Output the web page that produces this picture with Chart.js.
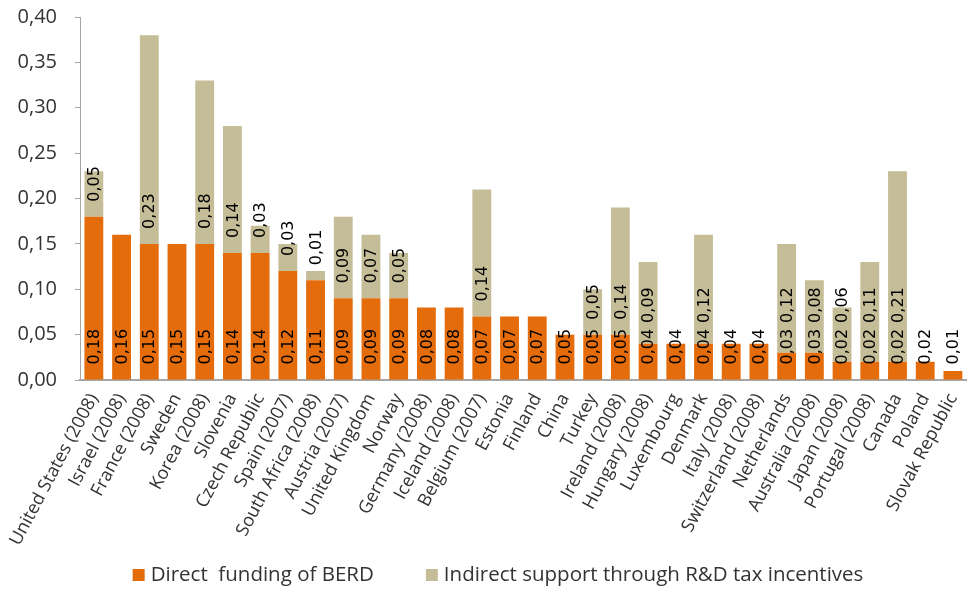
<!DOCTYPE html>
<html>
<head>
<meta charset="utf-8">
<script src="https://cdn.jsdelivr.net/npm/chart.js@4"></script>
<style>
  html, body { margin: 0; padding: 0; background: #fff; }
  #wrap { width: 974px; height: 589px; }
</style>
</head>
<body>
<div id="wrap"><canvas id="fundingChart"></canvas></div>
<script>
// Países (eje X)
const countries = [
  'United States (2008)', 'Israel (2008)', 'France (2008)', 'Sweden', 'Korea (2008)',
  'Slovenia', 'Czech Republic', 'Spain (2007)', 'South Africa (2008)', 'Austria (2007)',
  'United Kingdom', 'Norway', 'Germany (2008)', 'Iceland (2008)', 'Belgium (2007)',
  'Estonia', 'Finland', 'China', 'Turkey', 'Ireland (2008)', 'Hungary (2008)',
  'Luxembourg', 'Denmark', 'Italy (2008)', 'Switzerland (2008)', 'Netherlands',
  'Australia (2008)', 'Japan (2008)', 'Portugal (2008)', 'Canada', 'Poland', 'Slovak Republic'
];

// Financiación directa del BERD (% del PIB)
const directFunding = [
  0.18, 0.16, 0.15, 0.15, 0.15, 0.14, 0.14, 0.12, 0.11, 0.09,
  0.09, 0.09, 0.08, 0.08, 0.07, 0.07, 0.07, 0.05, 0.05, 0.05,
  0.04, 0.04, 0.04, 0.04, 0.04, 0.03, 0.03, 0.02, 0.02, 0.02,
  0.02, 0.01
];

// Apoyo indirecto vía incentivos fiscales (null = sin dato)
const indirectSupport = [
  0.05, null, 0.23, null, 0.18, 0.14, 0.03, 0.03, 0.01, 0.09,
  0.07, 0.05, null, null, 0.14, null, null, null, 0.05, 0.14,
  0.09, null, 0.12, null, null, 0.12, 0.08, 0.06, 0.11, 0.21,
  null, null
];

// Marcas del eje Y
const yTicks = [0, 0.05, 0.10, 0.15, 0.20, 0.25, 0.30, 0.35, 0.40];

const fmt = v => v.toFixed(2).replace('.', ',');

// Etiquetas verticales en la base de cada segmento
const barLabels = {
  id: 'barLabels',
  afterDatasetsDraw(chart) {
    const ctx = chart.ctx;
    ctx.save();
    ctx.font = '16px "DejaVu Sans"';
    ctx.fillStyle = '#000';
    ctx.textAlign = 'left';
    ctx.textBaseline = 'middle';
    const gap = 15;
    const labelEnds = []; // fin de la etiqueta inferior en cada columna
    chart.data.datasets.forEach((ds, i) => {
      const meta = chart.getDatasetMeta(i);
      meta.data.forEach((bar, j) => {
        const v = ds.data[j];
        if (v == null) return;
        const text = fmt(v);
        let start = bar.base - gap;
        // evitar que se monte sobre la etiqueta de abajo
        if (labelEnds[j] !== undefined) start = Math.min(start, labelEnds[j] - 6);
        labelEnds[j] = start - ctx.measureText(text).width;
        ctx.save();
        ctx.translate(bar.x + 1, start);
        ctx.rotate(-Math.PI / 2);
        ctx.fillText(text, 0, 0);
        ctx.restore();
      });
    });
    ctx.restore();
  }
};

// Leyenda dibujada a mano al pie
const bottomLegend = {
  id: 'bottomLegend',
  afterDraw(chart) {
    const ctx = chart.ctx;
    ctx.save();
    ctx.font = '20.5px "Open Sans"';
    ctx.textBaseline = 'middle';
    ctx.textAlign = 'left';
    const items = chart.data.datasets.map(ds => ({
      text: ds.label, color: ds.backgroundColor, w: ctx.measureText(ds.label).width
    }));
    const box = 12, boxGap = 6, itemGap = 52;
    const total = items.reduce((s, it) => s + box + boxGap + it.w, 0) + itemGap * (items.length - 1);
    let x = 498 - total / 2;
    const y = 575;
    items.forEach(it => {
      ctx.fillStyle = it.color;
      ctx.fillRect(x, y - box / 2, box, box);
      ctx.fillStyle = '#333';
      ctx.fillText(it.text, x + box + boxGap, y);
      x += box + boxGap + it.w + itemGap;
    });
    ctx.restore();
  }
};

const ctx = document.getElementById('fundingChart').getContext('2d');
const chart = new Chart(ctx, {
  type: 'bar',
  data: {
    labels: countries,
    datasets: [
      {
        label: 'Direct  funding of BERD',
        data: directFunding,
        backgroundColor: '#E46C0A',
        categoryPercentage: 1,
        barPercentage: 0.68
      },
      {
        label: 'Indirect support through R&D tax incentives',
        data: indirectSupport,
        backgroundColor: '#C4BD97',
        categoryPercentage: 1,
        barPercentage: 0.68
      }
    ]
  },
  options: {
    responsive: true,
    maintainAspectRatio: false,
    animation: false,
    layout: { padding: { top: 0, right: 1, left: 0, bottom: 0 } },
    plugins: {
      legend: { display: false },
      tooltip: { enabled: false }
    },
    scales: {
      x: {
        stacked: true,
        grid: { display: false },
        border: { display: true, color: '#A6A6A6', width: 2 },
        ticks: {
          autoSkip: false,
          maxRotation: 62,
          minRotation: 62,
          padding: 2,
          font: { family: 'Open Sans', size: 18 },
          color: '#333'
        },
        afterFit(scale) { scale.height = 209; }
      },
      y: {
        stacked: true,
        min: 0,
        max: 0.4,
        afterBuildTicks(scale) { scale.ticks = yTicks.map(v => ({ value: v })); },
        grid: { drawOnChartArea: false, drawTicks: true, tickLength: 5, color: '#A6A6A6' },
        border: { display: true, color: '#A6A6A6', width: 1 },
        ticks: {
          padding: 18,
          font: { family: 'Open Sans', size: 20 },
          color: '#333',
          callback: v => fmt(v)
        },
        afterFit(scale) {
          scale.width = 80;
          scale.paddingTop = 17;
          scale.paddingBottom = 0;
        }
      }
    }
  },
  plugins: [barLabels, bottomLegend]
});
</script>
</body>
</html>
